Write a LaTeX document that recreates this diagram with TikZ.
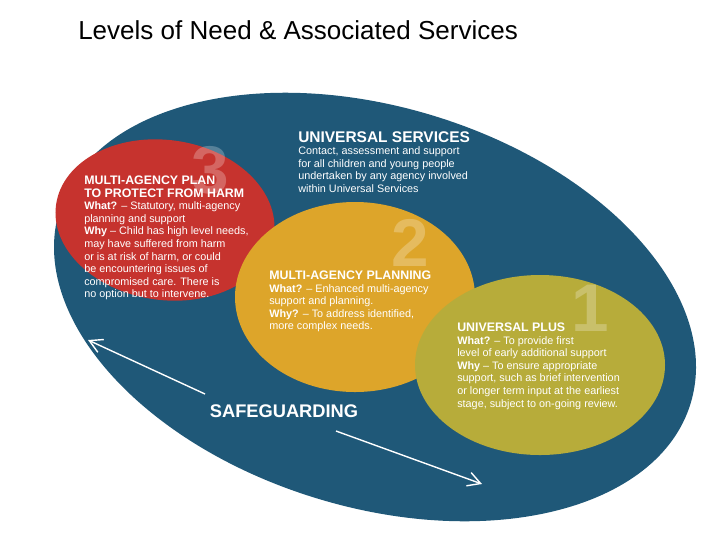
\documentclass[tikz,border=0pt]{standalone}
\usepackage{fontspec}
\setmainfont{Liberation Sans}
\usetikzlibrary{arrows.meta}
\definecolor{ubluec}{HTML}{1F5878}
\definecolor{uredc}{HTML}{C6332E}
\definecolor{uorangec}{HTML}{DDA52A}
\definecolor{uolivec}{HTML}{B7AC3A}
\newcommand{\lvlhead}{\fontsize{8.8}{9.6}\selectfont\bfseries}
\begin{document}
\begin{tikzpicture}[%
        x=0.025cm, y=-0.025cm,
        bignum/.style={font=\fontsize{48}{48}\selectfont\bfseries, text=white, opacity=0.25},
        blurb/.style={align=left, text=white, font=\fontsize{7.7}{8.9}\selectfont, inner sep=0pt, anchor=north west},
        safe/.style={draw=white, line width=1pt, -{Straight Barb[length=9pt,width=10pt]}}
    ]
        \useasboundingbox (0,0) rectangle (720,540);
        \fill[white] (0,0) rectangle (720,540);
        \node[anchor=west, inner sep=0pt, font=\fontsize{18.5}{22}\selectfont] (title) at (78,30) {Levels of Need \& Associated Services};

        % levels
        \fill[ubluec, rotate around={-17:(375,307)}] (375,307) ellipse [x radius=330, y radius=200];
        \fill[uredc, rotate around={-8:(165,220)}] (165,220) ellipse [x radius=110, y radius=80];
        \fill[uorangec] (355,297) ellipse [x radius=120, y radius=95];
        \fill[uolivec] (540,365) ellipse [x radius=125, y radius=90];

        \node[bignum] (n3) at (210,170) {3};
        \node[bignum] (n2) at (410,243) {2};
        \node[bignum] (n1) at (590,308) {1};

        \node[blurb] (us) at (298,131) {{\fontsize{11}{12.5}\selectfont\bfseries UNIVERSAL SERVICES}\\
            Contact, assessment and support\\ for all children and young people\\
            undertaken by any agency involved\\ within Universal Services};
        \node[blurb] (lv3) at (84,176) {{\lvlhead MULTI-AGENCY PLAN}\\ {\lvlhead TO PROTECT FROM HARM}\\
            \textbf{What?} -- Statutory, multi-agency\\ planning and support\\
            \textbf{Why} -- Child has high level needs,\\ may have suffered from harm\\
            or is at risk of harm, or could\\ be encountering issues of\\
            compromised care. There is\\ no option but to intervene.};
        \node[blurb] (lv2) at (269,271) {{\lvlhead MULTI-AGENCY PLANNING}\\
            \textbf{What?} -- Enhanced multi-agency\\ support and planning.\\
            \textbf{Why?} -- To address identified,\\ more complex needs.};
        \node[blurb] (lv1) at (457,323) {{\lvlhead UNIVERSAL PLUS}\\
            \textbf{What?} -- To provide first\\ level of early additional support\\
            \textbf{Why} -- To ensure appropriate\\ support, such as brief intervention\\
            or longer term input at the earliest\\ stage, subject to on-going review.};

        % safeguarding
        \node[text=white, font=\fontsize{13}{14}\selectfont\bfseries] (sg) at (284,411) {SAFEGUARDING};
        \coordinate (sgl) at (88,340);
        \coordinate (sgr) at (482,484);
        \draw[safe] (205,394) -- (sgl);
        \draw[safe] (336,431) -- (sgr);
    \end{tikzpicture}
\end{document}
